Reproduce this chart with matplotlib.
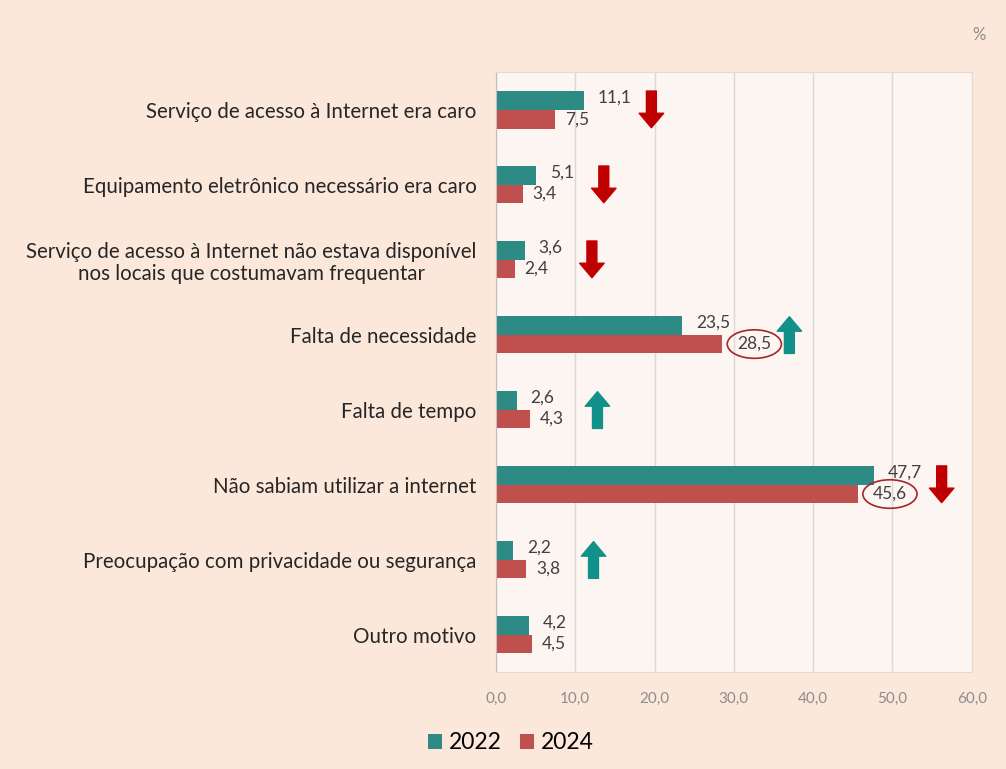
import matplotlib.pyplot as plt
import numpy as np

# dados (%)
categorias = [
    'Serviço de acesso à Internet era caro',
    'Equipamento eletrônico necessário era caro',
    'Serviço de acesso à Internet não estava disponível\nnos locais que costumavam frequentar',
    'Falta de necessidade',
    'Falta de tempo',
    'Não sabiam utilizar a internet',
    'Preocupação com privacidade ou segurança',
    'Outro motivo',
]
v2022 = [11.1, 5.1, 3.6, 23.5, 2.6, 47.7, 2.2, 4.2]
v2024 = [7.5, 3.4, 2.4, 28.5, 4.3, 45.6, 3.8, 4.5]
tendencia = ['down', 'down', 'down', 'up', 'up', 'down', 'up', None]
destaque = ['Falta de necessidade', 'Não sabiam utilizar a internet']
ticks_x = [0, 10, 20, 30, 40, 50, 60]

plt.rcParams['font.family'] = ['Lato', 'DejaVu Sans']

c22 = '#2E8A84'
c24 = '#C0504D'
fundo = '#FCE8DB'
fundo_plot = '#FDF5F1'
texto = '#404040'

fig = plt.figure(figsize=(10.06, 7.69), dpi=100, facecolor=fundo)
ax = fig.add_axes([0.493, 0.126, 0.473, 0.780])
ax.set_facecolor(fundo_plot)

y = np.arange(len(categorias))
h = 0.25
ax.barh(y - h / 2, v2022, height=h, color=c22, label='2022', zorder=2)
ax.barh(y + h / 2, v2024, height=h, color=c24, label='2024', zorder=2)

ax.set_xlim(0, 60)
ax.set_ylim(len(categorias) - 0.5, -0.5)
ax.set_xticks(ticks_x)
ax.set_xticklabels([f'{t:.1f}'.replace('.', ',') for t in ticks_x],
                   fontsize=11, color='#8C8C8C')
ax.set_yticks(y)
ax.set_yticklabels(categorias, fontsize=14.8, color='#262626',
                   multialignment='center', linespacing=1.15)
ax.tick_params(axis='both', length=0)
ax.tick_params(axis='x', pad=14)
ax.tick_params(axis='y', pad=14)
ax.grid(axis='x', color='#D9D9D9', linewidth=1, zorder=0)

for s in ['top', 'right', 'bottom']:
    ax.spines[s].set_color('#E3DAD5')
ax.spines['left'].set_color('#BFBFBF')

# rótulos de valores
for i in range(len(categorias)):
    ax.annotate(f'{v2022[i]:.1f}'.replace('.', ','), (v2022[i], y[i] - h / 2),
                xytext=(10, 2), textcoords='offset points',
                ha='left', va='center', fontsize=12.5, color=texto, zorder=4)
    bbox = None
    dx = 7
    if categorias[i] in destaque:
        bbox = dict(boxstyle='ellipse,pad=0.12', fc='none', ec='#A3262B', lw=1.2)
        dx = 11
    ax.annotate(f'{v2024[i]:.1f}'.replace('.', ','), (v2024[i], y[i] + h / 2),
                xytext=(dx, 0), textcoords='offset points',
                ha='left', va='center', fontsize=12.5, color=texto,
                bbox=bbox, zorder=4)

# setas de tendência
for i, t in enumerate(tendencia):
    if t is None:
        continue
    xa = max(v2022[i], v2024[i]) + 8.5
    if t == 'down':
        cor, y0, y1 = '#C00000', y[i] - 0.25, y[i] + 0.24
    else:
        cor, y0, y1 = '#12908A', y[i] + 0.25, y[i] - 0.24
    ax.annotate('', xy=(xa, y1), xytext=(xa, y0),
                arrowprops=dict(arrowstyle='simple,head_length=0.95,head_width=1.6,tail_width=0.65',
                                mutation_scale=11, color=cor, shrinkA=0, shrinkB=0),
                zorder=5)

fig.text(0.973, 0.955, '%', fontsize=12, color='#8C8C8C', ha='center', va='center')

fig.legend(loc='center', bbox_to_anchor=(0.508, 0.034), ncol=2, frameon=False,
           fontsize=16.5, handlelength=0.6, handleheight=0.6, handletextpad=0.3,
           columnspacing=0.8)

plt.savefig('out.png', dpi=100, facecolor=fundo)
